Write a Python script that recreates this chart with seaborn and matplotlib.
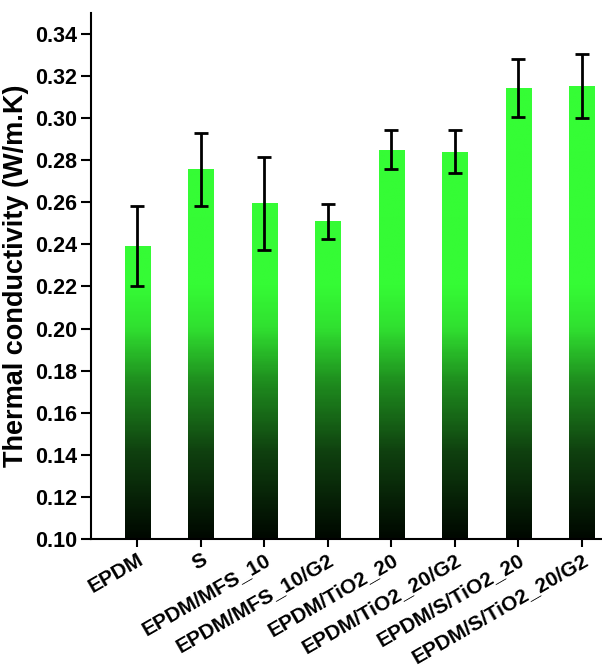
import numpy as np
import pandas as pd
import matplotlib
matplotlib.use("Agg")
import matplotlib.pyplot as plt
import matplotlib.transforms as mtransforms
import seaborn as sns
from matplotlib.colors import LinearSegmentedColormap, Normalize

# values
samples = ["EPDM", "S", "EPDM/MFS_10", "EPDM/MFS_10/G2", "EPDM/TiO2_20",
           "EPDM/TiO2_20/G2", "EPDM/S/TiO2_20", "EPDM/S/TiO2_20/G2"]
conductivity = [0.239, 0.276, 0.2596, 0.251, 0.285, 0.284, 0.314, 0.315]
err_low = [0.0188, 0.0176, 0.0221, 0.0084, 0.0091, 0.0102, 0.0134, 0.0152]
err_high = [0.019, 0.0168, 0.0221, 0.0082, 0.0094, 0.0101, 0.0138, 0.0152]

df = pd.DataFrame({"Sample": samples, "k": conductivity})

sns.set_style("ticks")
plt.rcParams['font.family'] = ['Liberation Sans', 'DejaVu Sans']
plt.rcParams['font.weight'] = 'bold'
plt.rcParams['text.color'] = 'black'
plt.rcParams['axes.labelcolor'] = 'black'
plt.rcParams['xtick.color'] = 'black'
plt.rcParams['ytick.color'] = 'black'
plt.rcParams['axes.edgecolor'] = 'black'

fig = plt.figure(figsize=(6.02, 6.68), dpi=100)
ax = fig.add_axes([0.151, 0.193, 0.86, 0.788])

sns.barplot(data=df, x="Sample", y="k", width=0.4, ax=ax, errorbar=None)

# green to black gradient depending on height
cmap = LinearSegmentedColormap.from_list(
    "grn", [(0.0, "#000800"), (0.16, "#0f3f0f"), (0.30, "#1f8f1f"),
            (0.40, "#30e030"), (0.48, "#35fb35"), (1.0, "#35ff35")])
ygrad = np.linspace(0.35, 0.10, 300).reshape(-1, 1)
for p in ax.patches:
    x0 = p.get_x()
    w = p.get_width()
    im = ax.imshow(ygrad, cmap=cmap, norm=Normalize(0.10, 0.35), aspect="auto",
                   extent=(x0, x0 + w, 0.10, 0.35), zorder=2)
    im.set_clip_path(p)
    p.set_facecolor("none")
    p.set_edgecolor("none")

ax.errorbar(np.arange(len(samples)), conductivity, yerr=[err_low, err_high],
            fmt="none", ecolor="black", elinewidth=2, capsize=5, capthick=2, zorder=3)

ax.set_xlim(-0.73, 7.42)
ax.set_ylim(0.10, 0.35)
yt = np.arange(0.10, 0.345, 0.02)
ax.set_yticks(yt)
ax.set_yticklabels([f"{v:.2f}" for v in yt], fontsize=15.5, fontweight="bold")
ax.set_xticks(range(len(samples)))
ax.set_xticklabels(samples, rotation=30, ha="right", va="top", rotation_mode="anchor",
                   fontsize=15, fontweight="bold")
shift = mtransforms.ScaledTranslation(9 / 100, 0, fig.dpi_scale_trans)
for lab in ax.get_xticklabels():
    lab.set_transform(lab.get_transform() + shift)
ax.tick_params(axis="y", length=7, width=1.5, direction="out", pad=3)
ax.tick_params(axis="x", length=6, width=1.5, direction="out", pad=2)
ax.set_xlabel("")
ax.set_ylabel("Thermal conductivity (W/m.K)", fontsize=19.5, fontweight="bold", labelpad=4)
for s in ["left", "bottom"]:
    ax.spines[s].set_linewidth(1.5)
sns.despine(ax=ax)

fig.savefig("out.png", dpi=100)
